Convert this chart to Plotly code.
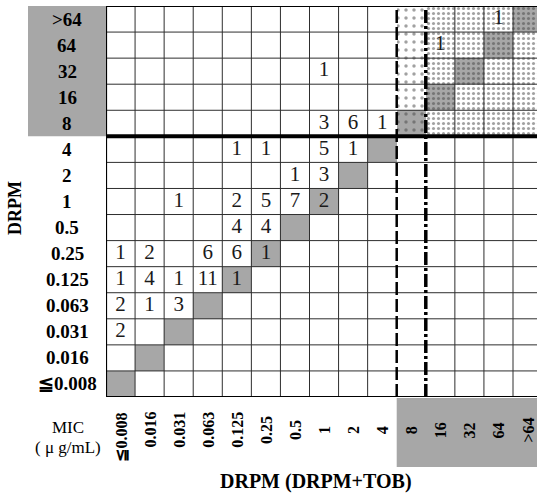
import plotly.graph_objects as go

# MIC scale (µg/mL), shared by both axes; rows run bottom-to-top
mic_levels = ["≦0.008", "0.016", "0.031", "0.063", "0.125", "0.25", "0.5",
              "1", "2", "4", "8", "16", "32", "64", ">64"]
breakpoint_level = "8"   # first level treated as high MIC

# Number of isolates: DRPM MIC alone (row) vs DRPM MIC with TOB (column)
cell_rows = [">64", "64", "32",
             "8", "8", "8",
             "4", "4", "4", "4",
             "2", "2",
             "1", "1", "1", "1", "1",
             "0.5", "0.5",
             "0.25", "0.25", "0.25", "0.25", "0.25",
             "0.125", "0.125", "0.125", "0.125", "0.125",
             "0.063", "0.063", "0.063",
             "0.031"]
cell_cols = ["64", "16", "1",
             "1", "2", "4",
             "0.125", "0.25", "1", "2",
             "0.5", "1",
             "0.031", "0.125", "0.25", "0.5", "1",
             "0.125", "0.25",
             "≦0.008", "0.016", "0.063", "0.125", "0.25",
             "≦0.008", "0.016", "0.031", "0.063", "0.125",
             "≦0.008", "0.016", "0.031",
             "≦0.008"]
cell_counts = [1, 1, 1,
               3, 6, 1,
               1, 1, 5, 1,
               1, 3,
               1, 2, 5, 7, 2,
               4, 4,
               1, 2, 6, 6, 1,
               1, 4, 1, 11, 1,
               2, 1, 3,
               2]

W, H = 537, 493
GRAY = "#a7a7a7"
SERIF = "Liberation Serif"
n = len(mic_levels)
idx = {m: i for i, m in enumerate(mic_levels)}
bp = idx[breakpoint_level]

# plot-area placement (pixels)
left_px, top_px, bottom_px = 106, 6, 397
col_w = (513 - 106) / 14.0
x_max = (W - left_px) / col_w

fig = go.Figure()

# diagonal (no change) cells outside the high/high block
diag_plain = [i for i in range(n) if i < bp]
fig.add_trace(go.Bar(
    x=[i + 0.5 for i in diag_plain], y=[1] * len(diag_plain),
    base=diag_plain, width=1, marker=dict(color=GRAY, line=dict(width=0)),
    hoverinfo="skip", showlegend=False))

# high/high block with dotted fill: first high column sparse, the rest dense
for dense in (False, True):
    xs, bases, colors = [], [], []
    for r in range(bp, n):
        for c in range(bp, n):
            if (c > bp) != dense:
                continue
            xs.append(c + 0.5)
            bases.append(r)
            colors.append(GRAY if r == c else "white")
    fig.add_trace(go.Bar(
        x=xs, y=[1] * len(xs), base=bases, width=1,
        marker=dict(color=colors, line=dict(width=0),
                    pattern=dict(shape=".", fgcolor="#000000",
                                 size=5 if dense else 8,
                                 solidity=0.3 if dense else 0.15)),
        hoverinfo="skip", showlegend=False))

# isolate counts
fig.add_trace(go.Scatter(
    x=[idx[c] + 0.5 for c in cell_cols],
    y=[idx[r] + 0.5 for r in cell_rows],
    text=[str(v) for v in cell_counts], mode="text",
    textfont=dict(family=SERIF, size=21, color="#1a1a1a"),
    hoverinfo="skip", showlegend=False))

shapes = []
# gray boxes behind the high-MIC labels
shapes.append(dict(type="rect", xref="paper", yref="y",
                   x0=28 / W, x1=left_px / W, y0=bp, y1=n,
                   fillcolor=GRAY, line=dict(width=0), layer="below"))
shapes.append(dict(type="rect", xref="x", yref="paper",
                   x0=bp, x1=n, y0=1 - 467 / H, y1=1 - 398 / H,
                   fillcolor=GRAY, line=dict(width=0), layer="below"))

# cell grid
for k in range(n + 1):
    if k not in (0, bp, bp + 1):
        shapes.append(dict(type="line", xref="x", yref="y", x0=k, x1=k, y0=0, y1=n,
                           line=dict(color="#2e2e2e", width=1), layer="above"))
    if k not in (0, n, bp):
        shapes.append(dict(type="line", xref="x", yref="y", x0=0, x1=n, y0=k, y1=k,
                           line=dict(color="#2e2e2e", width=1), layer="above"))
# outer frame
for (x0, x1, y0, y1) in [(0, 0, 0, n), (0, n, 0, 0), (0, n, n, n)]:
    shapes.append(dict(type="line", xref="x", yref="y", x0=x0, x1=x1, y0=y0, y1=y1,
                       line=dict(color="black", width=2.2), layer="above"))
# breakpoint separators
shapes.append(dict(type="line", xref="x", yref="y", x0=0, x1=n, y0=bp, y1=bp,
                   line=dict(color="black", width=4), layer="above"))
shapes.append(dict(type="line", xref="x", yref="y", x0=bp, x1=bp, y0=0, y1=n,
                   line=dict(color="black", width=2.5, dash="13px,4px"), layer="above"))
shapes.append(dict(type="line", xref="x", yref="y", x0=bp + 1, x1=bp + 1, y0=0, y1=n,
                   line=dict(color="black", width=3.5, dash="13px,3px,3px,3px"),
                   layer="above"))

annotations = []
# row (DRPM alone) labels
for i, m in enumerate(mic_levels):
    annotations.append(dict(xref="paper", yref="y", x=67 / W, y=i + 0.5,
                            text=m, showarrow=False, xanchor="center", yanchor="middle",
                            font=dict(family=SERIF, size=19, color="black", weight="bold")))
# column (DRPM+TOB) labels, rotated
for i, m in enumerate(mic_levels):
    annotations.append(dict(xref="x", yref="paper", x=i + 0.5,
                            y=1 - (437 if m.startswith("≦") else 430) / H,
                            text=m, showarrow=False, textangle=-90,
                            xanchor="center", yanchor="middle",
                            font=dict(family=SERIF, size=16, color="black", weight="bold")))
annotations += [
    dict(xref="paper", yref="paper", x=68 / W, y=1 - 427 / H, text="MIC",
         xanchor="center", yanchor="middle",
         showarrow=False, font=dict(family=SERIF, size=17, color="black")),
    dict(xref="paper", yref="paper", x=68 / W, y=1 - 447 / H, text="( μ g/mL)",
         xanchor="center", yanchor="middle",
         showarrow=False, font=dict(family=SERIF, size=17, color="black")),
    dict(xref="paper", yref="paper", x=316 / W, y=1 - 481 / H, text="DRPM (DRPM+TOB)",
         xanchor="center", yanchor="middle",
         showarrow=False, font=dict(family=SERIF, size=20, color="black", weight="bold")),
    dict(xref="paper", yref="paper", x=15 / W, y=1 - 208 / H, text="DRPM",
         xanchor="center", yanchor="middle",
         showarrow=False, textangle=-90,
         font=dict(family=SERIF, size=18, color="black", weight="bold")),
]

fig.update_layout(
    width=W, height=H, margin=dict(l=0, r=0, t=0, b=0),
    paper_bgcolor="white", plot_bgcolor="white",
    barmode="overlay", bargap=0,
    xaxis=dict(range=[0, x_max], domain=[left_px / W, 1], visible=False, fixedrange=True),
    yaxis=dict(range=[0, n], domain=[1 - bottom_px / H, 1 - top_px / H], visible=False,
               fixedrange=True),
    shapes=shapes, annotations=annotations,
)

fig.write_html("out.html")
